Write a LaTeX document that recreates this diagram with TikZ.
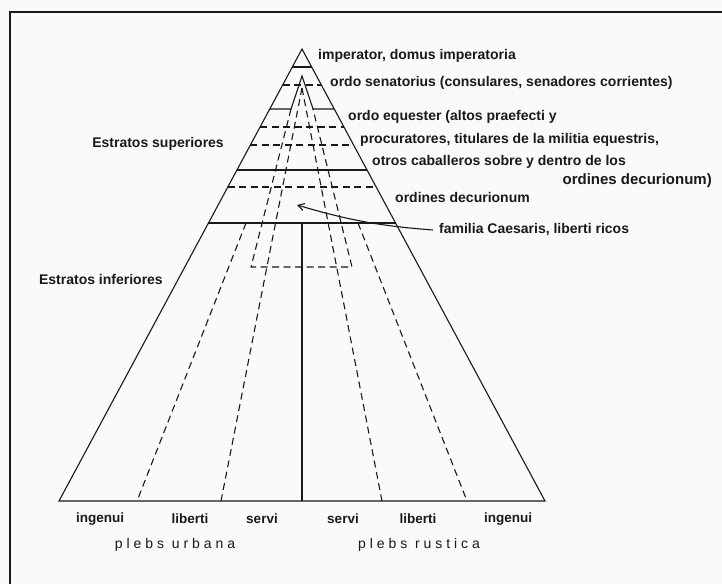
\documentclass[tikz,border=0pt]{standalone}
\usepackage{fontspec}
\setmainfont{Liberation Sans}
\newfontfamily\plebsfont[LetterSpace=28]{Liberation Sans}
\usepackage{tikz}
\usepackage{xcolor}
\usetikzlibrary{arrows, arrows.meta, positioning, calc}
\definecolor{inkblack}{RGB}{25, 25, 25}
\definecolor{paper}{RGB}{250, 250, 250}
\tikzset{
  solidrule/.style={draw=inkblack, line width=1.1pt},
  dashrule/.style={draw=inkblack, line width=1.1pt, dash pattern=on 7pt off 4.5pt},
  thickrule/.style={draw=inkblack, line width=2pt},
  stratlabel/.style={font=\fontsize{14}{16}\selectfont\bfseries, text=inkblack, inner sep=0pt, anchor=west},
  classlabel/.style={font=\fontsize{13.5}{16}\selectfont\bfseries, text=inkblack, inner sep=0pt},
  plebslabel/.style={font=\fontsize{14}{16}\plebsfont, text=inkblack, inner sep=0pt},
}

\begin{document}
\begin{tikzpicture}[x=1pt, y=-1pt]
\path[use as bounding box, fill=paper] (0,0) rectangle (722,584);
% frame
\draw[inkblack, line width=1.4pt] (722,12) -- (10,12) -- (10,584);
% pyramid
\coordinate (apex) at (302,49);
\coordinate (bl) at (59,501);
\coordinate (br) at (545,501);
\draw[solidrule, line join=miter] (bl) -- (apex) -- (br) -- cycle;
\foreach \y in {67,170}
  \draw[solidrule] ($(apex)!{(\y-49)/452}!(bl)$) -- ($(apex)!{(\y-49)/452}!(br)$);
\foreach \y in {85,127,145,187}
  \draw[dashrule] ($(apex)!{(\y-49)/452}!(bl)$) -- ($(apex)!{(\y-49)/452}!(br)$);
\draw[thickrule] ($(apex)!{174/452}!(bl)$) -- ($(apex)!{174/452}!(br)$);
% senatorius notch
\coordinate (nl) at (291,109);
\coordinate (nt) at (302,76);
\coordinate (nr) at (313,109);
\draw[solidrule] ($(apex)!{60/452}!(bl)$) -- (nl) -- (nt) -- (nr) -- ($(apex)!{60/452}!(br)$);
\draw[dashrule] (nl) -- (251,267) -- (352,267) -- (nr);
% servi / liberti / ingenui
\coordinate (top) at (302,88);
\draw[dashrule] (top) -- (221,501);
\draw[dashrule] (top) -- (382,501);
\draw[dashrule] (246,223) -- (137,501);
\draw[dashrule] (358,223) -- (467,501);
\draw[solidrule] (302,223) -- (302,501);

% labels right
\node[stratlabel] (imp) at (318,56) {imperator, domus imperatoria};
\node[stratlabel] (sen) at (330,83) {ordo senatorius (consulares, senadores corrientes)};
\node[stratlabel] (equ) at (348,117) {ordo equester (altos praefecti y};
\node[stratlabel] (proc) at (360,140) {procuratores, titulares de la militia equestris,};
\node[stratlabel] (otros) at (372,162) {otros caballeros sobre y dentro de los};
\node[stratlabel, anchor=east, font=\fontsize{15}{17}\selectfont\bfseries] (ordcont) at (712,181) {ordines decurionum)};
\node[stratlabel] (dec) at (395,197) {ordines decurionum};
\node[stratlabel] (fam) at (439,230) {familia Caesaris, liberti ricos};
\coordinate (famtip) at (297,205);
\draw[solidrule, -{Straight Barb[length=6pt, width=7pt]}] ([xshift=-6pt]fam.west) to[bend left=6] (famtip);
% labels left
\node[stratlabel, anchor=east] (sup) at (224,144) {Estratos superiores};
\node[stratlabel, anchor=east] (inf) at (163,279) {Estratos inferiores};
% base
\node[classlabel] (ingl) at (100,519) {ingenui};
\node[classlabel] (libl) at (190,519) {liberti};
\node[classlabel] (serl) at (262,519) {servi};
\node[classlabel] (serr) at (343,519) {servi};
\node[classlabel] (libr) at (418,519) {liberti};
\node[classlabel] (ingr) at (508,519) {ingenui};
\node[plebslabel] (urb) at (175,545) {plebs urbana};
\node[plebslabel] (rus) at (419,545) {plebs rustica};
\end{tikzpicture}
\end{document}
